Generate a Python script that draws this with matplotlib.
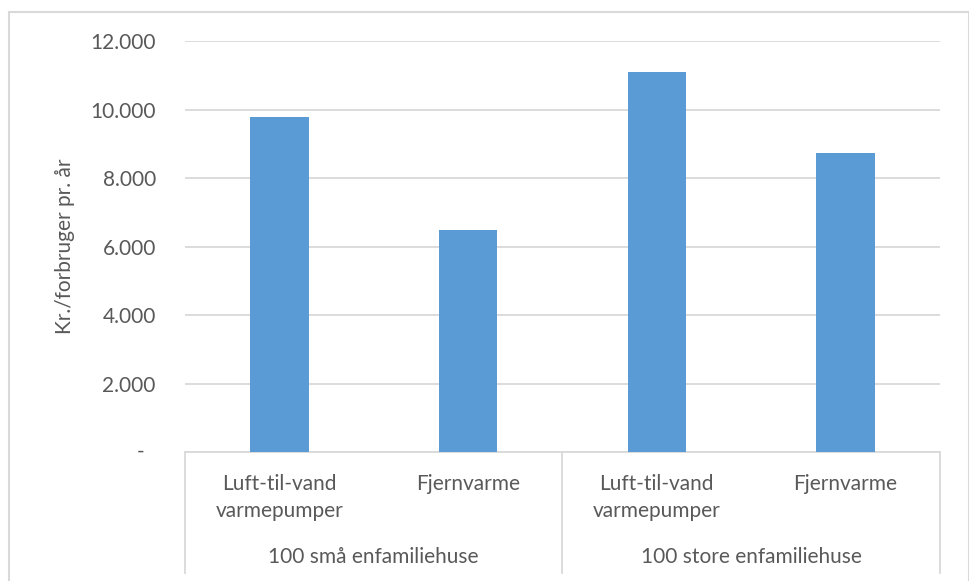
import matplotlib.pyplot as plt
from matplotlib.patches import Rectangle
from matplotlib.lines import Line2D

# data: yearly cost per consumer (kr.)
groups = ['100 små enfamiliehuse', '100 store enfamiliehuse']
techs = ['Luft-til-vand\nvarmepumper', 'Fjernvarme',
         'Luft-til-vand\nvarmepumper', 'Fjernvarme']
values = [9780, 6490, 11100, 8730]
yticks = [0, 2000, 4000, 6000, 8000, 10000, 12000]

plt.rcParams['font.family'] = ['Lato', 'DejaVu Sans']
txt_col = '#595959'
grid_col = '#d9d9d9'
fs = 15

W, H = 970, 581
fig = plt.figure(figsize=(W / 100, H / 100), dpi=100)
ax = fig.add_axes([185 / W, 1 - 452 / H, (940 - 185) / W, (452 - 41) / H])

# outer chart frame (bottom edge falls outside the image)
fig.patches.append(Rectangle((9 / W, -0.05), (969 - 9) / W, 1.05 - 12 / H,
                             transform=fig.transFigure, fill=False,
                             edgecolor=grid_col, lw=1.5))

xs = range(len(values))
ax.bar(xs, values, width=0.31, color='#5b9bd5', zorder=3)

ax.set_xlim(-0.5, 3.5)
ax.set_ylim(0, 12000)
ax.set_yticks(yticks)
ax.set_yticklabels([f'{v:,.0f}'.replace(',', '.') if v else '' for v in yticks],
                   fontsize=fs, color=txt_col)
ax.tick_params(axis='y', length=0, pad=21)
ax.annotate('-', xy=(0, 0), xycoords=('axes fraction', 'data'),
            xytext=(-44, 0), textcoords='offset pixels',
            ha='center', va='center', fontsize=fs, color=txt_col)
ax.grid(axis='y', color=grid_col, lw=1.3, zorder=0)

for s in ['top', 'right', 'left']:
    ax.spines[s].set_visible(False)
ax.spines['bottom'].set_color(grid_col)
ax.spines['bottom'].set_linewidth(1.3)

ax.set_xticks(list(xs))
ax.set_xticklabels(techs, fontsize=fs, color=txt_col, linespacing=1.4)
ax.tick_params(axis='x', length=0, pad=16)

# multi-level category axis: separators and group labels
trans = ax.get_xaxis_transform()
for x in [-0.5, 1.5, 3.5]:
    ax.add_line(Line2D([x, x], [0, -(573 - 452) / (452 - 41)], transform=trans,
                       color=grid_col, lw=1.3, clip_on=False))
for i, g in enumerate(groups):
    ax.text(2 * i + 0.5, -(557 - 452) / (452 - 41), g, transform=trans,
            ha='center', va='center', fontsize=fs, color=txt_col)

ax.set_ylabel('Kr./forbruger pr. år', fontsize=fs, color=txt_col, labelpad=11)

fig.savefig('out.png', dpi=100)
